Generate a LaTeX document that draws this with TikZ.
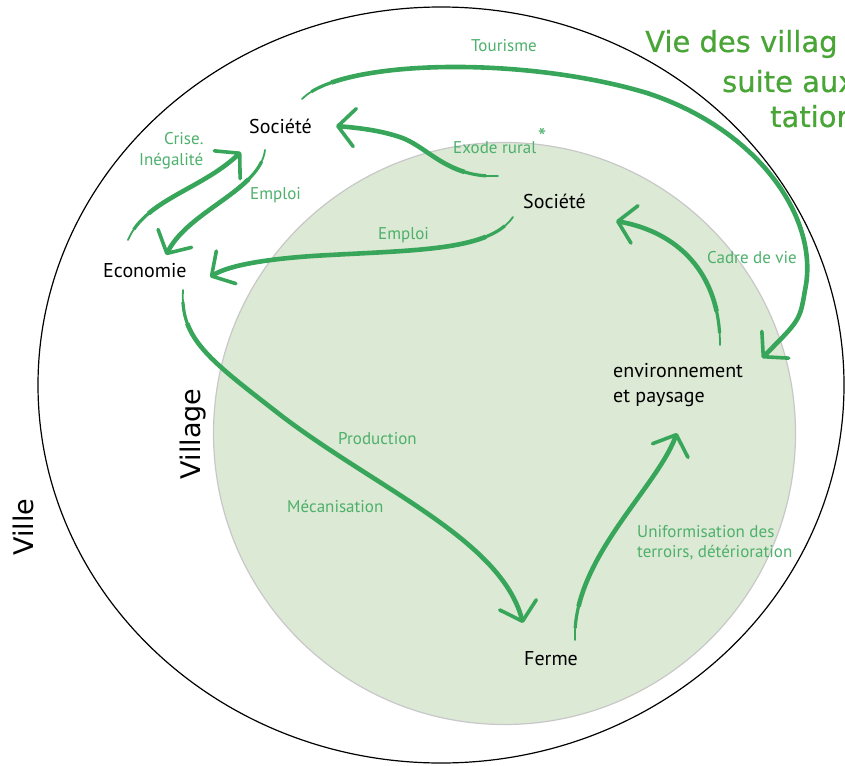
\documentclass[tikz,border=0pt]{standalone}
\usepackage{fontspec}
\setmainfont{PT Sans}
\newfontfamily\titlefont[FakeBold=0.6]{DejaVu Sans}
\newfontfamily\ringfont{DejaVu Sans}
\usetikzlibrary{arrows.meta}
\definecolor{arrowgreen}{HTML}{38A65A}
\definecolor{lblgreen}{HTML}{4DB06B}
\definecolor{titlegreen}{HTML}{4AA537}
\definecolor{villagefill}{HTML}{DCE9D4}
\definecolor{circlegray}{HTML}{C8C8C8}
\tikzset{
    blk/.style={font=\fontsize{20}{24}\selectfont, text=black, inner sep=0pt, anchor=base west},
    lbl/.style={font=\fontsize{17}{20}\selectfont, text=lblgreen, inner sep=0pt, anchor=base west},
    ttl/.style={font=\titlefont\fontsize{29}{34}\selectfont, text=titlegreen, inner sep=0pt, anchor=base west},
    ring/.style={font=\ringfont\fontsize{27}{32}\selectfont, inner sep=0pt, anchor=base, rotate=90},
    brush/.style={draw=arrowgreen, line width=1.8pt, line cap=round,
        -{Straight Barb[length=17pt,width=38pt,line width=3.6pt,round]},
        postaction={draw=arrowgreen, -, line cap=butt, line width=3.2pt, shorten >=4pt,
            dash pattern=on 0pt off 12pt on 3000pt},
        postaction={draw=arrowgreen, -, line cap=butt, line width=4.6pt, shorten >=5pt,
            dash pattern=on 0pt off 34pt on 3000pt}}
}
\begin{document}
\begin{tikzpicture}[x=1pt, y=-1pt]
    \useasboundingbox (0, 0) rectangle (845, 765);
    \clip (0, 0) rectangle (845, 765);

    %%rings
    \draw[line width=1.2pt] (441, 385) ellipse [x radius=403, y radius=378];
    \draw[fill=villagefill, draw=circlegray, line width=1.2pt] (504.5, 433.5) circle [radius=291];
    \node[ring] (ville) at (33, 527) {Ville};
    \node[ring] (village) at (200, 434) {Village};

    %%title
    \node[ttl] (title1) at (645, 52) {Vie des villag};
    \node[ttl] (title2) at (722, 92) {suite aux};
    \node[ttl] (title3) at (770, 127) {tation};

    %%black labels
    \node[blk] (socA) at (249, 133) {Société};
    \node[blk] (socB) at (523, 208) {Société};
    \node[blk] (eco) at (103, 277) {Economie};
    \node[blk] (env1) at (613, 377) {environnement};
    \node[blk] (env2) at (613, 402) {et paysage};
    \node[blk] (ferme) at (524, 665) {Ferme};

    %%green labels
    \node[lbl] (tour) at (471, 52) {Tourisme};
    \node[lbl] (crise) at (164, 144) {Crise.};
    \node[lbl] (ineg) at (139, 165) {Inégalité};
    \node[lbl] (empA) at (250, 199) {Emploi};
    \node[lbl] (exode) at (453, 153) {Exode rural};
    \node[lbl, font=\fontsize{24}{24}\selectfont, anchor=base] (star) at (542, 146) {*};
    \node[lbl] (empB) at (378, 239) {Emploi};
    \node[lbl] (cadre) at (707, 263) {Cadre de vie};
    \node[lbl] (prod) at (338, 444) {Production};
    \node[lbl] (meca) at (287, 512) {Mécanisation};
    \node[lbl] (unif1) at (637, 537) {Uniformisation des};
    \node[lbl] (unif2) at (637, 557) {terroirs, détérioration};

    %%arrow ends
    \coordinate (t0) at (302, 99);   \coordinate (t1) at (762, 358);
    \coordinate (e0) at (498, 176);  \coordinate (e1) at (336, 126);
    \coordinate (c0) at (128, 240);  \coordinate (c1) at (241, 152);
    \coordinate (m0) at (265, 150);  \coordinate (m1) at (166, 255);
    \coordinate (i0) at (513, 217);  \coordinate (i1) at (210, 277);
    \coordinate (v0) at (720, 345);  \coordinate (v1) at (616, 221);
    \coordinate (p0) at (183, 290);  \coordinate (p1) at (523, 623);
    \coordinate (u0) at (575, 640);  \coordinate (u1) at (677, 433);

    %%outer loop
    \draw[brush] (t0) .. controls (340, 60) and (520, 55) .. (647, 93)
        .. controls (760, 130) and (820, 220) .. (805, 290)
        .. controls (800, 320) .. (t1);
    \draw[brush] (e0) .. controls (450, 178) and (430, 150) .. (405, 139)
        .. controls (385, 131) and (360, 128) .. (e1);
    \draw[brush] (c0) .. controls (145, 200) and (200, 190) .. (c1);
    \draw[brush] (m0) .. controls (260, 190) and (190, 210) .. (m1);

    %%inner loop
    \draw[brush] (i0) .. controls (490, 250) and (420, 250) .. (330, 255)
        .. controls (270, 258) and (230, 265) .. (i1);
    \draw[brush] (v0) .. controls (720, 270) and (675, 232) .. (v1);
    \draw[brush] (p0) .. controls (180, 340) and (210, 360) .. (283, 417)
        .. controls (380, 490) and (500, 540) .. (p1);
    \draw[brush] (u0) .. controls (572, 560) and (655, 490) .. (u1);
\end{tikzpicture}
\end{document}
